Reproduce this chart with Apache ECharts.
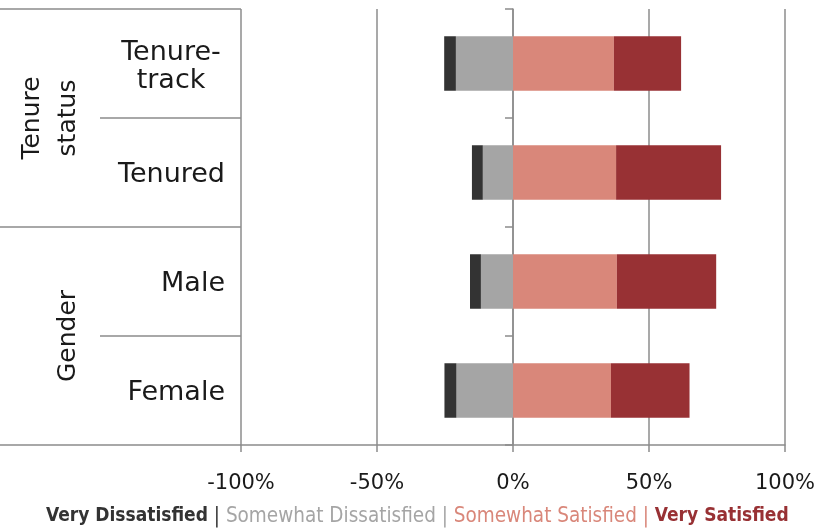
<!DOCTYPE html>
<html>
<head>
<meta charset="utf-8">
<script src="https://cdn.jsdelivr.net/npm/echarts@6/dist/echarts.min.js"></script>
<style>
html,body{margin:0;padding:0;background:#fff;}
#chart{width:825px;height:531px;}
</style>
</head>
<body>
<div id="chart"></div>
<script>
var categories = ['Tenure-track', 'Tenured', 'Male', 'Female'];
var groups = ['Tenure status', 'Gender'];
var seriesNames = ['Very Dissatisfied', 'Somewhat Dissatisfied', 'Somewhat Satisfied', 'Very Satisfied'];
var seriesColors = ['#333333', '#a5a5a5', '#d9877a', '#983134'];
var legendBold = [true, false, false, true];
var veryDissatisfied = [4.3, 4.0, 4.0, 4.4];
var somewhatDissatisfied = [21.0, 11.1, 11.8, 20.8];
var somewhatSatisfied = [37.1, 37.9, 38.2, 36.0];
var verySatisfied = [24.7, 38.6, 36.5, 28.9];
var xTicks = [-100, -50, 0, 50, 100];

var FONT = 'DejaVu Sans';
var LINE = '#8c8c8c';
var LEGEND_FONT = "'DejaVu Sans Condensed', 'Liberation Sans Narrow', sans-serif";

function neg(arr) { return arr.map(function (v) { return -v; }); }

var legendParts = [];
var rich = {};
seriesNames.forEach(function (n, i) {
  rich['n' + i] = {
    color: seriesColors[i],
    fontFamily: LEGEND_FONT,
    fontWeight: legendBold[i] ? 'bold' : 'normal',
    fontSize: legendBold[i] ? 19 : 20.5
  };
  rich['p' + i] = {
    color: seriesColors[i],
    fontFamily: LEGEND_FONT,
    fontWeight: 'normal',
    fontSize: 20.5
  };
  legendParts.push('{n' + i + '|' + n + '}');
  if (i < seriesNames.length - 1) legendParts.push('{p' + i + '| | }');
});

var chart = echarts.init(document.getElementById('chart'), null, { renderer: 'canvas' });

function bar(name, data, color) {
  return {
    name: name,
    type: 'bar',
    stack: 'total',
    yAxisIndex: 0,
    barWidth: '50%',
    itemStyle: { color: color },
    data: data,
    animation: false
  };
}

chart.setOption({
  animation: false,
  title: {
    text: legendParts.join(''),
    left: 46,
    top: 506,
    padding: 0,
    textStyle: { rich: rich }
  },
  grid: { left: 241, right: 40, top: 9, bottom: 86, containLabel: false },
  xAxis: {
    type: 'value',
    min: xTicks[0],
    max: xTicks[xTicks.length - 1],
    interval: 50,
    axisLine: { show: true, onZero: false, lineStyle: { color: LINE, width: 1.5 } },
    axisTick: { show: true, length: 7, lineStyle: { color: LINE, width: 1.5 } },
    splitLine: { show: true, lineStyle: { color: LINE, width: 1.5 } },
    axisLabel: {
      formatter: '{value}%',
      fontFamily: FONT,
      fontSize: 21,
      color: '#1a1a1a',
      margin: 28
    }
  },
  yAxis: [
    {
      type: 'category',
      data: categories,
      inverse: true,
      position: 'left',
      axisLine: { show: false, onZero: false },
      axisTick: { show: true, length: 141, interval: 0, lineStyle: { color: LINE, width: 1.5 } },
      splitLine: { show: false },
      axisLabel: {
        interval: 0,
        margin: 16,
        align: 'right',
        fontFamily: FONT,
        fontSize: 27,
        color: '#1a1a1a',
        padding: [4, 0, 0, 0],
        formatter: function (v) {
          if (v.indexOf('-') >= 0) {
            var p = v.split('-');
            return '{c|' + p[0] + '-}\n{c|' + p[1] + '}';
          }
          return v;
        },
        rich: {
          c: { width: 108, align: 'center', lineHeight: 28, fontFamily: FONT, fontSize: 27, color: '#1a1a1a', padding: [2, 0, 0, 0] }
        }
      }
    },
    {
      type: 'category',
      data: groups,
      inverse: true,
      position: 'left',
      axisLine: { show: false, onZero: false },
      axisTick: { show: true, length: 241, interval: 0, lineStyle: { color: LINE, width: 1.5 } },
      splitLine: { show: false },
      axisLabel: {
        interval: 0,
        rotate: 90,
        margin: 155,
        fontFamily: FONT,
        fontSize: 25,
        lineHeight: 36,
        color: '#1a1a1a',
        formatter: function (v) { return v.replace(' ', '\n'); }
      }
    },
    {
      type: 'category',
      data: categories,
      inverse: true,
      position: 'left',
      axisLine: { show: true, onZero: true, lineStyle: { color: LINE, width: 1.5 } },
      axisTick: { show: true, length: 8, interval: 0, lineStyle: { color: LINE, width: 1.5 } },
      axisLabel: { show: false },
      splitLine: { show: false }
    }
  ],
  series: [
    bar(seriesNames[1], neg(somewhatDissatisfied), seriesColors[1]),
    bar(seriesNames[0], neg(veryDissatisfied), seriesColors[0]),
    bar(seriesNames[2], somewhatSatisfied, seriesColors[2]),
    bar(seriesNames[3], verySatisfied, seriesColors[3])
  ]
});
</script>
</body>
</html>
